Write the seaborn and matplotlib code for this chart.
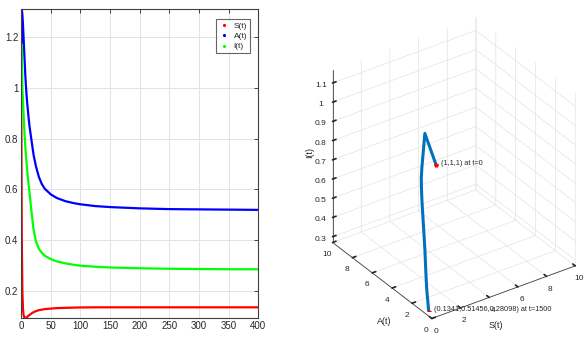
import matplotlib
matplotlib.use("Agg")
import matplotlib.pyplot as plt
from matplotlib.lines import Line2D
import numpy as np
import pandas as pd
import seaborn as sns

# time samples
t = [0, 1, 2, 3, 4, 5, 6, 7, 8, 9, 10, 12, 14, 17, 21, 25, 30, 35, 40, 50,
     60, 75, 90, 100, 125, 150, 200, 250, 300, 350, 400]
S = [1.0, 0.42, 0.2, 0.13, 0.105, 0.097, 0.094, 0.093, 0.094, 0.095, 0.097,
     0.101, 0.105, 0.11, 0.116, 0.12, 0.124, 0.126, 0.128, 0.13, 0.132, 0.133,
     0.134, 0.1345, 0.135, 0.135, 0.135, 0.135, 0.135, 0.135, 0.135]
A = [1.0, 1.31, 1.29, 1.25, 1.2, 1.15, 1.1, 1.05, 1.01, 0.975, 0.945, 0.895,
     0.85, 0.80, 0.735, 0.69, 0.648, 0.62, 0.602, 0.58, 0.566, 0.553, 0.545,
     0.541, 0.534, 0.53, 0.525, 0.522, 0.521, 0.52, 0.519]
I = [1.0, 1.17, 1.0, 0.95, 0.9, 0.85, 0.805, 0.77, 0.735, 0.705, 0.68, 0.63,
     0.59, 0.52, 0.44, 0.395, 0.365, 0.35, 0.338, 0.325, 0.316, 0.308, 0.302,
     0.299, 0.295, 0.292, 0.289, 0.287, 0.286, 0.285, 0.285]

# end state shown in the phase portrait
t_end = 1500
end_state = [0.1341, 0.51456, 0.28098]

series_names = ["S(t)", "A(t)", "I(t)"]
series_colors = ["#ff0000", "#0000ff", "#00ff00"]

sns.set_theme(style="white")
plt.rcParams["font.family"] = ["Liberation Sans", "DejaVu Sans"]
plt.rcParams["font.size"] = 7
plt.rcParams["grid.color"] = "#e3e3e3"
plt.rcParams["grid.linewidth"] = 0.6

df = pd.DataFrame({
    "t": t * 3,
    "value": S + A + I,
    "series": [n for n in series_names for _ in t],
})

W, H = 588, 339
fig = plt.figure(figsize=(W / 100, H / 100), dpi=100)

# ---- left: time series ----
ax = fig.add_axes([0.036, 0.062, 0.403, 0.911])
sns.lineplot(data=df, x="t", y="value", hue="series", palette=series_colors,
             hue_order=series_names, linewidth=1.6, legend=False, ax=ax,
             sort=False)
ax.set_xlim(0, 400)
ax.set_ylim(0.093, 1.31)
ax.set_xticks(np.arange(0, 401, 50))
ax.set_yticks([0.2, 0.4, 0.6, 0.8, 1.0, 1.2])
ax.set_yticklabels(["0.2", "0.4", "0.6", "0.8", "1", "1.2"])
ax.set_xlabel("")
ax.set_ylabel("")
ax.grid(True, color="#e3e3e3", linewidth=0.7)
ax.tick_params(direction="in", length=3, width=0.6, colors="#262626",
               labelsize=7, top=True, right=True, labeltop=False,
               labelright=False, pad=2)
for sp in ax.spines.values():
    sp.set_color("#404040")
    sp.set_linewidth(0.8)

handles = [Line2D([], [], linestyle="none", marker=".", markersize=2.5,
                  color=c, label=n) for n, c in zip(series_names, series_colors)]
leg = ax.legend(handles=handles, loc="upper right", fontsize=6,
                frameon=True, fancybox=False, edgecolor="#404040",
                borderpad=0.35, handletextpad=0.6, labelspacing=0.3,
                handlelength=1.2, borderaxespad=0,
                bbox_to_anchor=(0.966, 0.968))
leg.get_frame().set_linewidth(0.8)

# ---- right: phase portrait ----
ax3 = fig.add_axes([0.5275, -0.0044, 0.476, 0.997], projection="3d")
ax3.set_proj_type("ortho")
xs = S + [end_state[0]]
ys = A + [end_state[1]]
zs = I + [end_state[2]]
ax3.plot(xs, ys, zs, color="#0072bd", linewidth=2.2)
ax3.plot([S[0]], [A[0]], [I[0]], marker="*", color="red", markersize=3)
ax3.plot([end_state[0]], [end_state[1]], [end_state[2]], marker="*",
         color="red", markersize=3)
ax3.text(S[0] + 0.35, A[0], I[0], "(1,1,1) at t=0", fontsize=5.3,
         color="#262626", va="center")
ax3.text(end_state[0] + 0.4, end_state[1], end_state[2],
         "(0.1341,0.51456,0.28098) at t=1500", fontsize=5.3,
         color="#262626", va="center")

ax3.set_xlim(0, 10)
ax3.set_ylim(0, 10)
ax3.set_zlim(0.27, 1.17)
ax3.set_xticks([0, 2, 4, 6, 8, 10])
ax3.set_yticks([0, 2, 4, 6, 8, 10])
ax3.set_zticks([0.3, 0.4, 0.5, 0.6, 0.7, 0.8, 0.9, 1.0, 1.1])
ax3.set_zticklabels(["0.3", "0.4", "0.5", "0.6", "0.7", "0.8", "0.9", "1",
                     "1.1"])
ax3.tick_params(labelsize=6, colors="#262626")
ax3.tick_params(axis="x", pad=-4)
ax3.tick_params(axis="y", pad=-4)
ax3.tick_params(axis="z", pad=-3)
for axis in (ax3.xaxis, ax3.yaxis, ax3.zaxis):
    axis.set_pane_color((1, 1, 1, 0))
    axis.line.set_color("#404040")
    axis.line.set_linewidth(0.6)
    axis.label.set_visible(False)
    axis.offsetText.set_visible(False)
    axis._axinfo["grid"]["color"] = "#e3e3e3"
    axis._axinfo["grid"]["linewidth"] = 0.5
    axis._axinfo["tick"]["inward_factor"] = 0.0
    axis._axinfo["tick"]["outward_factor"] = 0.3
for txt in (ax3.title, ax3._left_title, ax3._right_title):
    txt.set_visible(False)
ax3.view_init(elev=32, azim=-124.7)
ax3.set_box_aspect((1, 1, 1.169), zoom=1.11)

# axis titles of the phase portrait
fig.text(310 / W, 1 - 153 / H, "I(t)", rotation=90, ha="center",
         va="center", fontsize=6.5, color="#262626")
fig.text(384 / W, 1 - 322 / H, "A(t)", ha="center", va="center",
         fontsize=6.5, color="#262626")
fig.text(496 / W, 1 - 325 / H, "S(t)", ha="center", va="center",
         fontsize=6.5, color="#262626")

fig.savefig("out.png", dpi=100)
